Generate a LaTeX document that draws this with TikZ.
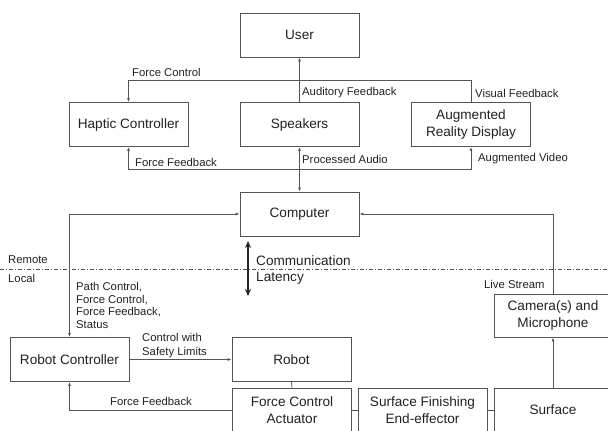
\documentclass[tikz,border=0pt]{standalone}
\usepackage{fontspec}
\setmainfont{Liberation Sans}
\usetikzlibrary{arrows.meta}
\definecolor{ln}{HTML}{555555}
\definecolor{tx}{HTML}{222222}
\tikzset{
  blk/.style={draw=ln, line width=0.8pt, fill=white, minimum width=119pt, minimum height=44pt, inner sep=1pt, align=center, text=tx, font=\fontsize{13.6}{16.7}\selectfont},
  lbl/.style={anchor=west, inner sep=0pt, text=tx, font=\fontsize{11.3}{12.8}\selectfont, align=left},
  big/.style={anchor=west, inner sep=0pt, text=tx, font=\fontsize{13.6}{16.7}\selectfont},
  wire/.style={draw=ln, line width=0.8pt},
  arr/.style={wire, -{Latex[length=4pt,width=3pt]}},
  arrb/.style={wire, {Latex[length=4pt,width=3pt]}-{Latex[length=4pt,width=3pt]}},
}
\begin{document}
\begin{tikzpicture}[x=1pt, y=-1pt]
\useasboundingbox (0,0) rectangle (608,431);
\clip (0,0) rectangle (608,431);
\fill[white] (0,0) rectangle (608,431);

% boxes
\node[blk] (user) at (299.5,35) {User};
\node[blk] (haptic) at (128.5,124.5) {Haptic Controller};
\node[blk] (speakers) at (299.5,124.5) {Speakers};
\node[blk] (ar) at (471,124.5) {Augmented\\Reality Display};
\node[blk] (computer) at (299.5,214) {Computer};
\node[blk] (robotctrl) at (69.5,359.5) {Robot Controller};
\node[blk] (robot) at (291.5,359.5) {Robot};
\node[blk] (fca) at (292,410) {Force Control\\Actuator};
\node[blk, minimum width=129pt] (sfe) at (422.5,410) {Surface Finishing\\End-effector};
\node[blk, minimum width=118pt] (surface) at (553,410) {Surface};
\node[blk, minimum width=118pt, minimum height=43pt] (camera) at (553,315.5) {Camera(s) and\\Microphone};

% top connectors
\draw[arr] (speakers.north) -- (user.south);
\coordinate (fcturn) at (128.5,80);
\draw[arr] (ar.north) |- (fcturn) -- (haptic.north);
\coordinate (ffj) at (299.5,169);
\draw[arrb] (speakers.south) -- (computer.north);
\draw[arr] (ffj) -| (haptic.south);
\draw[arr] (ffj) -| (ar.south);

% computer links
\draw[arrb] (computer.west) -| (robotctrl.north);
\draw[arr] (camera.north) |- (computer.east);

% local side
\draw[arr] (robotctrl.east) -- (robot.west);
\draw[wire] (robot.south) -- (fca.north);
\draw[arr] (fca.west) -| (robotctrl.south);
\draw[wire] (fca.east) -- (sfe.west);
\draw[wire] (sfe.east) -- (surface.west);
\draw[arr] (surface.north) -- (camera.south);

% remote/local divider
\coordinate (dl) at (0,269);
\coordinate (dr) at (608,269);
\draw[ln, line width=0.6pt, dash pattern=on 4pt off 2pt on 1pt off 2pt] (dl) -- (dr);

% communication latency arrow
\coordinate (lt) at (248,241);
\coordinate (lb) at (248,296);
\draw[draw=black!85, line width=1.3pt, {Stealth[length=7pt,width=6pt]}-{Stealth[length=7pt,width=6pt]}] (lt) -- (lb);

% labels
\node[lbl] (l1) at (132,72) {Force Control};
\node[lbl] (l2) at (302,93) {Auditory Feedback};
\node[lbl] (l3) at (475,93) {Visual Feedback};
\node[lbl] (l4) at (135,162) {Force Feedback};
\node[lbl] (l5) at (302,159) {Processed Audio};
\node[lbl] (l6) at (478,159) {Augmented Video};
\node[lbl] (l7) at (8,260) {Remote};
\node[lbl] (l8) at (8,278) {Local};
\node[big] (l9) at (256,261) {Communication};
\node[big] (l10) at (256,278) {Latency};
\node[lbl, anchor=north west] (l11) at (76,282) {Path Control,\\Force Control,\\Force Feedback,\\Status};
\node[lbl, font=\fontsize{11.3}{14}\selectfont] (l12) at (142,346) {Control with\\Safety Limits};
\node[lbl] (l13) at (484,284) {Live Stream};
\node[lbl] (l14) at (110,401) {Force Feedback};
\end{tikzpicture}
\end{document}
